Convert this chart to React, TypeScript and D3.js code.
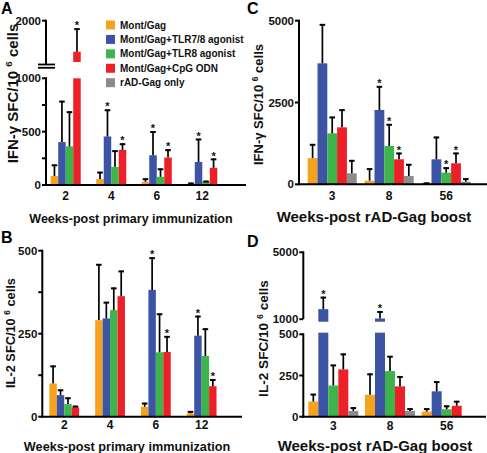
import React from 'react';
import * as d3 from 'd3';

// ---------- DATA ----------
const primaryWeeks = ['2', '4', '6', '12'];
const boostWeeks = ['3', '8', '56'];
const seriesNames = [
  'Mont/Gag',
  'Mont/Gag+TLR7/8 agonist',
  'Mont/Gag+TLR8 agonist',
  'Mont/Gag+CpG ODN',
  'rAD-Gag only',
];
const seriesColors = ['#F7A21C', '#3B54A4', '#3DB54A', '#EE2027', '#8C8C8C'];

// Panel A: IFN-gamma, weeks post primary immunization (series 0..3)
const ifnPrimaryMean = [
  [84, 56, 31, 12],
  [402, 455, 279, 216],
  [362, 170, 77, 31],
  [1250, 328, 257, 161],
];
const ifnPrimaryErr = [
  [192, 124, 62, 22],
  [789, 708, 504, 434],
  [690, 325, 155, 40],
  [1816, 390, 334, 248],
];
const ifnPrimaryStars = [
  [0, 0, 0, 0],
  [0, 1, 1, 1],
  [0, 0, 0, 0],
  [1, 1, 1, 1],
];

// Panel B: IL-2, weeks post primary immunization
const il2PrimaryMean = [
  [100, 291, 30, 10],
  [65, 296, 382, 244],
  [38, 321, 194, 183],
  [28, 363, 195, 92],
];
const il2PrimaryErr = [
  [154, 460, 42, 17],
  [82, 346, 480, 304],
  [58, 389, 311, 266],
  [33, 440, 243, 113],
];
const il2PrimaryStars = [
  [0, 0, 0, 0],
  [0, 0, 1, 1],
  [0, 0, 0, 0],
  [0, 0, 1, 1],
];

// Panel C: IFN-gamma, weeks post rAD-Gag boost (series 0..4)
const ifnBoostMean = [
  [800, 112, 45],
  [3697, 2271, 764],
  [1558, 1171, 356],
  [1741, 764, 642],
  [336, 255, 81],
];
const ifnBoostErr = [
  [1232, 489, 55],
  [4898, 3004, 1456],
  [2067, 1843, 519],
  [2291, 967, 967],
  [743, 621, 183],
];
const ifnBoostStars = [
  [0, 0, 0],
  [0, 1, 0],
  [0, 1, 1],
  [0, 1, 1],
  [0, 0, 0],
];

// Panel D: IL-2, weeks post rAD-Gag boost
const il2BoostMean = [
  [92, 133, 31],
  [1600, 1040, 154],
  [189, 277, 45],
  [287, 184, 66],
  [35, 35, 0],
];
const il2BoostErr = [
  [139, 262, 51],
  [2340, 1480, 215],
  [316, 369, 68],
  [383, 246, 96],
  [57, 51, 0],
];
const il2BoostStars = [
  [0, 0, 0],
  [1, 1, 0],
  [0, 0, 0],
  [0, 0, 0],
  [0, 0, 0],
];

const ifnTicksPrimary = [0, 500, 1000];
const ifnMinorPrimary = [250, 750];
const ifnUpperTicksPrimary = [2000];
const il2TicksPrimary = [0, 250, 500];
const il2MinorPrimary = [125, 375];
const ifnTicksBoost = [0, 2500, 5000];
const il2TicksBoost = [0, 250, 500];
const il2UpperTicksBoost = [1000, 5000];

// ---------- LAYOUT ----------
const FONT = 'Liberation Sans, Arial, Helvetica, sans-serif';

type Seg = {
  domain: [number, number];
  range: [number, number];
  ticks: number[];
  minor?: number[];
  axisTop: number;
  axisBottom: number;
  clip?: number;
};

type PanelSpec = {
  letter: string;
  letterPos: [number, number];
  cats: string[];
  means: number[][];
  errs: number[][];
  stars: number[][];
  xRange: [number, number];
  pInner: number;
  pOuter: number;
  axisX: number;
  baseEnd: number;
  low: Seg;
  up?: Seg;
  breakMarks?: [number, number];
  catLabelY: number;
  yTitle: 'IFN' | 'IL2';
  yTitlePos: [number, number];
  yTitleSize: number;
  xTitle: string;
  xTitlePos: [number, number];
  xTitleSize: number;
};

const panels: PanelSpec[] = [
  {
    letter: 'A', letterPos: [1, 14],
    cats: primaryWeeks, means: ifnPrimaryMean, errs: ifnPrimaryErr, stars: ifnPrimaryStars,
    xRange: [46, 222], pInner: 0.34, pOuter: 0.103, axisX: 46, baseEnd: 246,
    low: { domain: [0, 1000], range: [185, 78.3], ticks: ifnTicksPrimary, minor: ifnMinorPrimary, axisTop: 78.3, axisBottom: 185, clip: 1000 },
    up: { domain: [1000, 2000], range: [62, 20.7], ticks: ifnUpperTicksPrimary, axisTop: 20.7, axisBottom: 64.5 },
    breakMarks: [64.5, 67.8],
    catLabelY: 199.5,
    yTitle: 'IFN', yTitlePos: [18, 93.5], yTitleSize: 15,
    xTitle: 'Weeks-post primary immunization', xTitlePos: [131, 223], xTitleSize: 12.5,
  },
  {
    letter: 'B', letterPos: [1, 243],
    cats: primaryWeeks, means: il2PrimaryMean, errs: il2PrimaryErr, stars: il2PrimaryStars,
    xRange: [42.5, 223.4], pInner: 0.35, pOuter: 0.15, axisX: 42.3, baseEnd: 242,
    low: { domain: [0, 500], range: [416.7, 250.7], ticks: il2TicksPrimary, minor: il2MinorPrimary, axisTop: 250.7, axisBottom: 416.7 },
    catLabelY: 429,
    yTitle: 'IL2', yTitlePos: [15, 333], yTitleSize: 12.8,
    xTitle: 'Weeks-post primary immunization', xTitlePos: [127, 451], xTitleSize: 12.7,
  },
  {
    letter: 'C', letterPos: [247, 14],
    cats: boostWeeks, means: ifnBoostMean, errs: ifnBoostErr, stars: ifnBoostStars,
    xRange: [300, 478.4], pInner: 0.14, pOuter: 0.135, axisX: 299, baseEnd: 487,
    low: { domain: [0, 5000], range: [184.3, 20.7], ticks: ifnTicksBoost, axisTop: 20.7, axisBottom: 184.3 },
    catLabelY: 200,
    yTitle: 'IFN', yTitlePos: [263, 104.5], yTitleSize: 13,
    xTitle: 'Weeks-post rAD-Gag boost', xTitlePos: [374, 222], xTitleSize: 15,
  },
  {
    letter: 'D', letterPos: [247, 246.5],
    cats: boostWeeks, means: il2BoostMean, errs: il2BoostErr, stars: il2BoostStars,
    xRange: [304, 476], pInner: 0.118, pOuter: 0.076, axisX: 303.3, baseEnd: 486,
    low: { domain: [0, 500], range: [416.7, 334.3], ticks: il2TicksBoost, axisTop: 334.3, axisBottom: 416.7, clip: 510 },
    up: { domain: [850, 5000], range: [321.7, 252.3], ticks: il2UpperTicksBoost, axisTop: 252.3, axisBottom: 319 },
    catLabelY: 429.5,
    yTitle: 'IL2', yTitlePos: [268, 338.5], yTitleSize: 13.6,
    xTitle: 'Weeks-post rAD-Gag boost', xTitlePos: [375, 451], xTitleSize: 15,
  },
];

function YTitle({ kind, x, y, size }: { kind: 'IFN' | 'IL2'; x: number; y: number; size: number }) {
  return (
    <text
      transform={`translate(${x},${y}) rotate(-90)`}
      textAnchor="middle"
      fontFamily={FONT}
      fontWeight="bold"
      fontSize={size}
      fill="#111"
    >
      {kind === 'IFN' ? 'IFN-γ SFC/10 ' : 'IL-2 SFC/10 '}
      <tspan fontSize={size * 0.65} dy={-size * 0.4}>6</tspan>
      <tspan dy={size * 0.4}> cells</tspan>
    </text>
  );
}

function Panel({ p }: { p: PanelSpec }) {
  const x0 = d3.scaleBand<string>().domain(p.cats).range(p.xRange).paddingInner(p.pInner).paddingOuter(p.pOuter);
  const sIdx = d3.range(p.means.length).map(String);
  const x1 = d3.scaleBand<string>().domain(sIdx).range([0, x0.bandwidth()]);
  const yL = d3.scaleLinear().domain(p.low.domain).range(p.low.range);
  const yU = p.up ? d3.scaleLinear().domain(p.up.domain).range(p.up.range) : null;
  const clip = p.low.clip ?? p.low.domain[1];
  const w = x1.bandwidth();

  const bars: JSX.Element[] = [];
  const errs: JSX.Element[] = [];
  p.means.forEach((row, i) => {
    row.forEach((v, j) => {
      const cat = p.cats[j];
      const x = (x0(cat) as number) + (x1(String(i)) as number);
      const cx = x + w / 2;
      const e = p.errs[i][j];
      let topY: number;
      let errY: number;
      if (yU && v > clip) {
        bars.push(<rect key={`l${i}-${j}`} x={x} y={yL(clip)} width={w} height={yL(0) - yL(clip)} fill={seriesColors[i]} />);
        const ub = yU(p.up!.domain[0]);
        bars.push(<rect key={`u${i}-${j}`} x={x} y={yU(v)} width={w} height={ub - yU(v)} fill={seriesColors[i]} />);
        topY = yU(v);
        errY = yU(e);
      } else {
        const h = Math.max(0, yL(0) - yL(v));
        if (v > 0) bars.push(<rect key={`l${i}-${j}`} x={x} y={yL(v)} width={w} height={h} fill={seriesColors[i]} />);
        topY = yL(v);
        errY = e > clip && yU ? yU(e) : yL(e);
      }
      if (e > v) {
        errs.push(
          <g key={`e${i}-${j}`} stroke="#000">
            <line x1={cx} x2={cx} y1={topY} y2={errY} strokeWidth={1.7} />
            <line x1={cx - 2.8} x2={cx + 2.8} y1={errY + 0.8} y2={errY + 0.8} strokeWidth={2} />
          </g>
        );
      }
      if (p.stars[i][j]) {
        const sy = e > v ? errY : topY;
        errs.push(
          <text key={`s${i}-${j}`} x={cx} y={sy + 1} textAnchor="middle" fontFamily={FONT} fontWeight="bold" fontSize={11} fill="#111">*</text>
        );
      }
    });
  });

  const tickText = (t: number, y: number, k: string) => (
    <g key={k}>
      <line x1={p.axisX - 4} x2={p.axisX} y1={y} y2={y} stroke="#000" strokeWidth={2} />
      <text x={p.axisX - 5} y={y} dy="0.36em" textAnchor="end" fontFamily={FONT} fontWeight="bold" fontSize={11.5} fill="#111">{t}</text>
    </g>
  );

  return (
    <g>
      <text x={p.letterPos[0]} y={p.letterPos[1]} fontFamily={FONT} fontWeight="bold" fontSize={16} fill="#000">{p.letter}</text>
      {bars}
      {errs}
      <line x1={p.axisX} x2={p.axisX} y1={p.low.axisTop - 1} y2={p.low.axisBottom + 1} stroke="#000" strokeWidth={2} />
      {p.low.ticks.map((t) => tickText(t, yL(t), `lt${t}`))}
      {(p.low.minor || []).map((t) => (
        <line key={`m${t}`} x1={p.axisX - 4} x2={p.axisX} y1={yL(t)} y2={yL(t)} stroke="#000" strokeWidth={2} />
      ))}
      {p.up && yU && (
        <g>
          <line x1={p.axisX} x2={p.axisX} y1={p.up.axisTop - 1} y2={p.up.axisBottom} stroke="#000" strokeWidth={2} />
          {p.up.ticks.map((t) => tickText(t, yU(t), `ut${t}`))}
        </g>
      )}
      {p.breakMarks && (
        <g stroke="#000" strokeWidth={1.8}>
          <line x1={p.axisX - 8} x2={p.axisX + 9} y1={p.breakMarks[0]} y2={p.breakMarks[0]} />
          <line x1={p.axisX - 8} x2={p.axisX + 9} y1={p.breakMarks[1]} y2={p.breakMarks[1]} />
        </g>
      )}
      <line x1={p.axisX - 1} x2={p.baseEnd} y1={yL(0)} y2={yL(0)} stroke="#000" strokeWidth={2} />
      {p.cats.map((c) => (
        <text key={`c${c}`} x={(x0(c) as number) + x0.bandwidth() / 2} y={p.catLabelY} textAnchor="middle" fontFamily={FONT} fontWeight="bold" fontSize={12} fill="#111">{c}</text>
      ))}
      <YTitle kind={p.yTitle} x={p.yTitlePos[0]} y={p.yTitlePos[1]} size={p.yTitleSize} />
      <text x={p.xTitlePos[0]} y={p.xTitlePos[1]} textAnchor="middle" fontFamily={FONT} fontWeight="bold" fontSize={p.xTitleSize} fill="#111">{p.xTitle}</text>
    </g>
  );
}

function Legend() {
  const y = d3.scaleLinear().domain([0, 4]).range([25, 82.7]);
  return (
    <g>
      {seriesNames.map((n, i) => (
        <g key={n}>
          <rect x={106} y={y(i) - 4.5} width={9} height={9} fill={seriesColors[i]} />
          <text x={120} y={y(i)} dy="0.36em" fontFamily={FONT} fontWeight="bold" fontSize={10} fill="#111">{n}</text>
        </g>
      ))}
    </g>
  );
}

export default function App() {
  return (
    <svg
      width={487}
      height={453}
      viewBox="0 0 487 453"
      style={{ position: 'absolute', left: 0, top: 0, background: '#fff' }}
    >
      <rect width={487} height={453} fill="#fff" />
      {panels.map((p) => (
        <Panel key={p.letter} p={p} />
      ))}
      <Legend />
    </svg>
  );
}
